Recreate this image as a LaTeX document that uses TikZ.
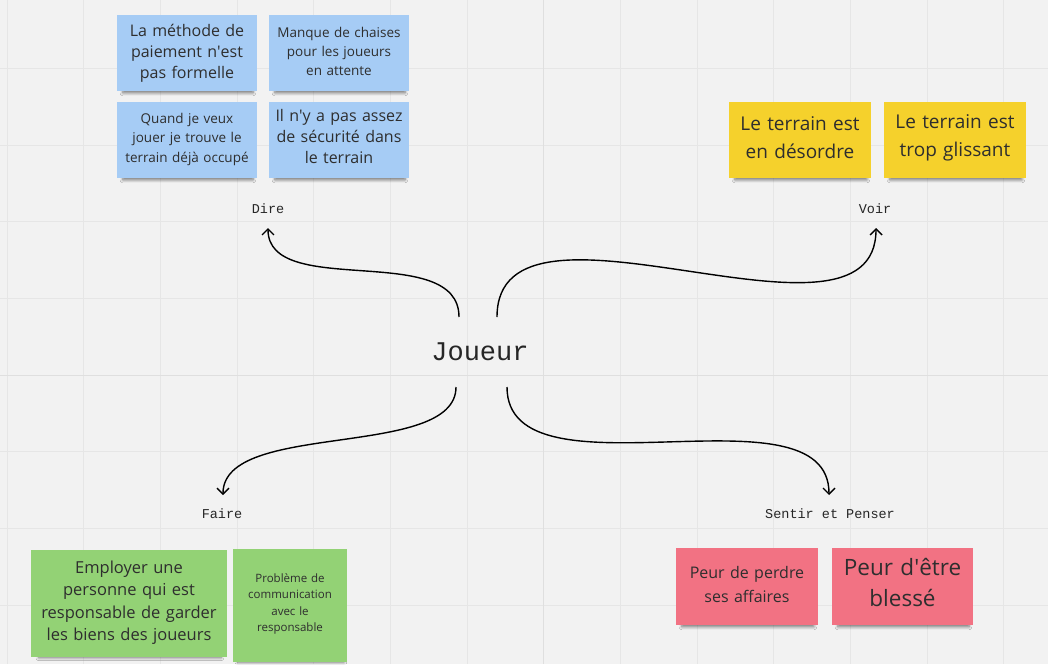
\documentclass[tikz,border=0pt]{standalone}
\usepackage{fontspec}
\setmainfont{Open Sans}
\newfontfamily\monof{Liberation Mono}
\usetikzlibrary{arrows.meta,shadows.blur}
\definecolor{bg}{HTML}{F2F2F2}
\definecolor{gridc}{HTML}{E6E6E6}
\definecolor{gridm}{HTML}{DFDFDF}
\definecolor{sblue}{HTML}{A6CCF5}
\definecolor{syellow}{HTML}{F5D12C}
\definecolor{sgreen}{HTML}{93D275}
\definecolor{spink}{HTML}{F27283}
\definecolor{stext}{HTML}{2E2E2E}
\newcommand\qs{\textquotesingle}
\newcommand\liftup[1]{\par\vspace{#1}}
\tikzset{
  sticky/.style={rectangle, inner sep=0pt, align=center, text=stext,
    blur shadow={shadow xshift=1pt, shadow yshift=-5pt, shadow scale=0.93,
      shadow blur steps=6, shadow blur radius=3pt, shadow opacity=50}},
  lbl/.style={inner sep=0pt, font=\monof\fontsize{13.5}{16}\selectfont, text=black!85},
  conn/.style={line width=1.4pt, -{Straight Barb[length=6pt,width=12pt,line width=1.4pt]}}
}
\begin{document}
\begin{tikzpicture}[x=1pt,y=-1pt]
\fill[bg] (0,0) rectangle (1048,664);
\useasboundingbox (0,0) rectangle (1048,664);
% grid
\foreach \i in {0,...,13} {
  \draw[gridc, line width=1pt] ({7+76.67*\i},0) -- ({7+76.67*\i},664);
}
\foreach \j in {0,...,8} {
  \draw[gridc, line width=1pt] (0,{-8.3+76.67*\j}) -- (1048,{-8.3+76.67*\j});
}
\draw[gridm, line width=1pt] (543.7,0) -- (543.7,664);
\draw[gridm, line width=1pt] (0,375) -- (1048,375);
% center
\node[inner sep=0pt, font=\monof\fontsize{27}{30}\selectfont, text=black!85] (J) at (480,352) {Joueur};
% labels
\node[lbl] (dire) at (268,209) {Dire};
\node[lbl] (voir) at (875,209) {Voir};
\node[lbl] (faire) at (222,514) {Faire};
\node[lbl] (sentir) at (830,514) {Sentir et Penser};
% blue notes
\node[sticky, fill=sblue, minimum width=140pt, minimum height=76pt, text width=136pt,
  font=\fontsize{16}{21}\selectfont] (b1) at (187,53) {La méthode de\\paiement n\qs est\\pas formelle};
\node[sticky, fill=sblue, minimum width=140pt, minimum height=76pt, text width=136pt,
  font=\fontsize{13.5}{19}\selectfont] (b2) at (339,53) {Manque de chaises\\pour les joueurs\\en attente\liftup{4pt}};
\node[sticky, fill=sblue, minimum width=140pt, minimum height=76pt, text width=136pt,
  font=\fontsize{13.5}{19.5}\selectfont] (b3) at (187,140) {Quand je veux\\jouer je trouve le\\terrain déjà occupé\liftup{2pt}};
\node[sticky, fill=sblue, minimum width=140pt, minimum height=76pt, text width=136pt,
  font=\fontsize{16}{21}\selectfont] (b4) at (339,140) {Il n\qs y a pas assez\\de sécurité dans\\le terrain\liftup{7pt}};
% yellow notes
\node[sticky, fill=syellow, minimum width=142pt, minimum height=76pt, text width=138pt,
  font=\fontsize{19}{28}\selectfont] (y1) at (800,140) {Le terrain est\\en désordre\liftup{5pt}};
\node[sticky, fill=syellow, minimum width=142pt, minimum height=76pt, text width=138pt,
  font=\fontsize{19}{28}\selectfont] (y2) at (955,140) {Le terrain est\\trop glissant\liftup{5pt}};
% green notes
\node[sticky, fill=sgreen, minimum width=196pt, minimum height=107pt, text width=192pt,
  font=\fontsize{16.5}{22.5}\selectfont] (g1) at (129,603.5) {Employer une\\personne qui est\\responsable de garder\\les biens des joueurs\liftup{2pt}};
\node[sticky, fill=sgreen, minimum width=114pt, minimum height=113pt, text width=110pt,
  font=\fontsize{11.5}{16.5}\selectfont] (g2) at (290,605.5) {Problème de\\communication\\avec le\\responsable\liftup{3pt}};
% pink notes
\node[sticky, fill=spink, minimum width=142pt, minimum height=77pt, text width=138pt,
  font=\fontsize{16}{24}\selectfont] (p1) at (747,586.5) {Peur de perdre\\ses affaires\liftup{5pt}};
\node[sticky, fill=spink, minimum width=141pt, minimum height=77pt, text width=137pt,
  font=\fontsize{22.5}{31}\selectfont] (p2) at (902.5,586.5) {Peur d\qs être\\blessé\liftup{8pt}};
% connectors
\draw[conn] ([shift={(-21,-35)}]J.center) .. controls +(0,-77) and +(0,72) .. ([shift={(0,19)}]dire.center);
\draw[conn] ([shift={(17,-35)}]J.center) .. controls +(0,-147) and +(0,142) .. ([shift={(1,19)}]voir.center);
\draw[conn] ([shift={(-24,35)}]J.center) .. controls +(0,73) and +(0,-75) .. ([shift={(1,-19)}]faire.center);
\draw[conn] ([shift={(27,35)}]J.center) .. controls +(0,118) and +(0,-115) .. ([shift={(-1,-19)}]sentir.center);
\end{tikzpicture}
\end{document}
